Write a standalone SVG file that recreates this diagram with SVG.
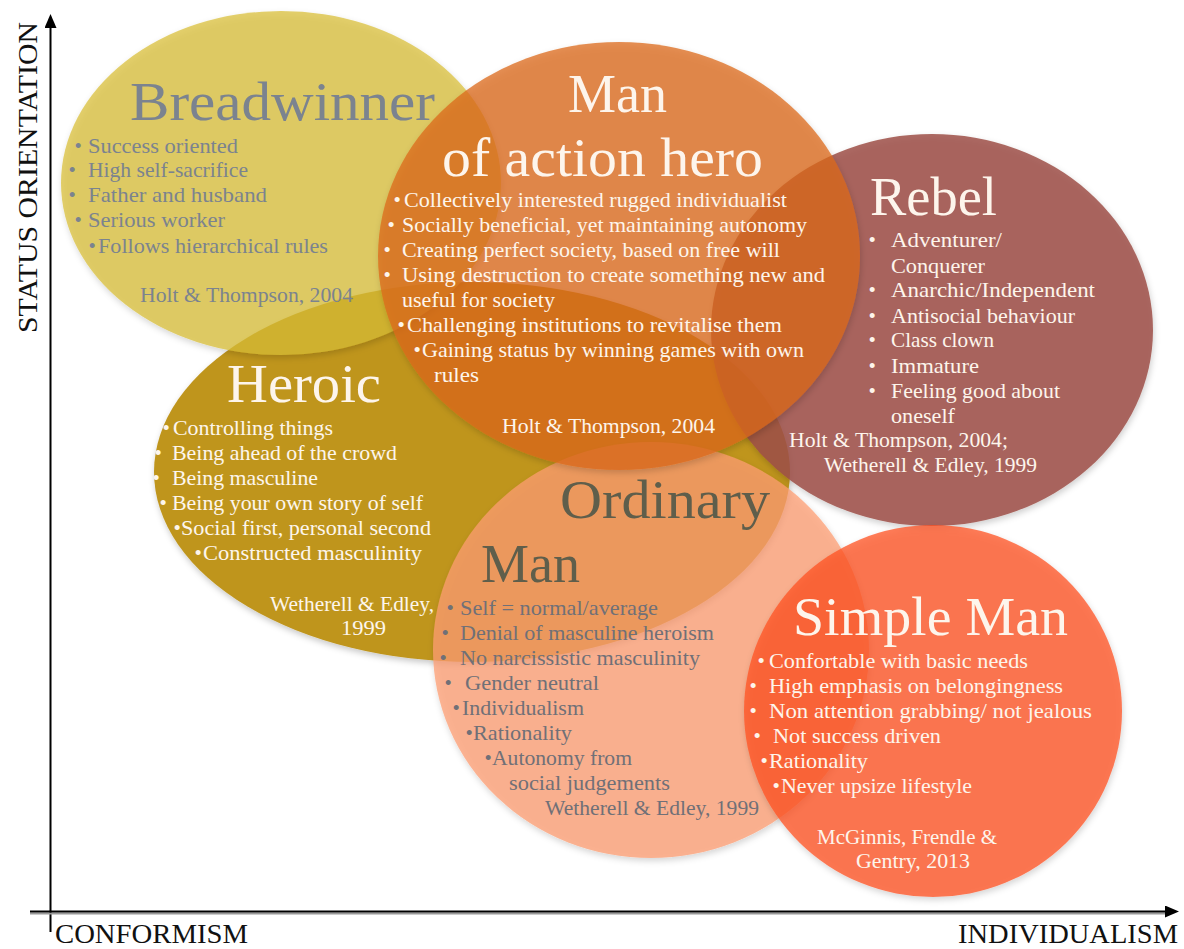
<svg xmlns="http://www.w3.org/2000/svg" width="1184" height="949" viewBox="0 0 1184 949">
<style>
text{font-family:"Liberation Serif","Times New Roman",serif}
.ttl{font-size:54px}
.b{font-size:21px}
.ax{font-size:28px;fill:#111}
.gr{fill:#7b838f}
.w{fill:#fdf5ec}
.om{fill:#5f5e4b}
.og{fill:#707077}
.sh{filter:url(#shadow)}
</style>
<defs>
<filter id="shadow" x="-10%" y="-10%" width="120%" height="125%">
<feDropShadow dx="1" dy="3" stdDeviation="3" flood-color="#000" flood-opacity="0.22"/>
</filter>
<marker id="arr" viewBox="0 0 14 12" refX="1" refY="6" markerWidth="14" markerHeight="12" markerUnits="userSpaceOnUse" orient="auto">
<path d="M0,0 L14,6 L0,12 Z" fill="#000"/>
</marker>
</defs>
<rect width="1184" height="949" fill="#fff"/>

<g id="shapes">
<ellipse id="heroic-shape" class="sh" cx="472" cy="472" rx="318" ry="190" fill="#bf951f"/>
<ellipse id="breadwinner-shape" class="sh" cx="281" cy="183" rx="220" ry="172" fill="#d8be37" fill-opacity="0.73"/>
<ellipse id="ordinary-shape" class="sh" cx="651" cy="650" rx="218" ry="208" fill="#fd9e73" fill-opacity="0.74"/>
<ellipse id="rebel-shape" class="sh" cx="932" cy="330" rx="221" ry="196" fill="#9d5048" fill-opacity="0.85"/>
<ellipse id="action-shape" class="sh" cx="619" cy="256" rx="241" ry="214" fill="#dc6a1a" fill-opacity="0.75"/>
<ellipse id="simple-shape" class="sh" cx="933" cy="711" rx="189" ry="186" fill="#ff5223" fill-opacity="0.75"/>
</g>

<g id="connectors">
<line x1="50.5" y1="932" x2="50.5" y2="27" stroke="#000" stroke-width="2" marker-end="url(#arr)"/>
<line x1="30" y1="913.5" x2="1166" y2="913.5" stroke="#999" stroke-width="2"/>
<line x1="30" y1="911.5" x2="1166" y2="911.5" stroke="#000" stroke-width="2" marker-end="url(#arr)"/>
</g>

<g id="axis-labels">
<text class="ax" transform="translate(37,333) rotate(-90)" textLength="311" lengthAdjust="spacingAndGlyphs">STATUS ORIENTATION</text>
<text class="ax" x="55" y="943" textLength="193" lengthAdjust="spacingAndGlyphs">CONFORMISM</text>
<text class="ax" x="958" y="943" textLength="220" lengthAdjust="spacingAndGlyphs">INDIVIDUALISM</text>
</g>

<g id="breadwinner" class="gr">
<text class="ttl" x="130" y="120" textLength="305" lengthAdjust="spacingAndGlyphs">Breadwinner</text>
<text class="b" x="74.5" y="153">•</text><text class="b" x="88" y="153" textLength="150" lengthAdjust="spacingAndGlyphs">Success oriented</text>
<text class="b" x="68.5" y="177">•</text><text class="b" x="88" y="177" textLength="160" lengthAdjust="spacingAndGlyphs">High self-sacrifice</text>
<text class="b" x="68.5" y="202">•</text><text class="b" x="88" y="202" textLength="179" lengthAdjust="spacingAndGlyphs">Father and husband</text>
<text class="b" x="74.5" y="227">•</text><text class="b" x="88" y="227" textLength="137" lengthAdjust="spacingAndGlyphs">Serious worker</text>
<text class="b" x="88.5" y="253">•</text><text class="b" x="98" y="253" textLength="230" lengthAdjust="spacingAndGlyphs">Follows hierarchical rules</text>
<text class="b" x="140" y="302" textLength="213" lengthAdjust="spacingAndGlyphs">Holt &amp; Thompson, 2004</text>
</g>

<g id="man-of-action-hero" class="w">
<text class="ttl" x="568" y="112" textLength="99" lengthAdjust="spacingAndGlyphs">Man</text>
<text class="ttl" x="442" y="176" textLength="321" lengthAdjust="spacingAndGlyphs">of action hero</text>
<text class="b" x="393.5" y="207">•</text><text class="b" x="404" y="207" textLength="383" lengthAdjust="spacingAndGlyphs">Collectively interested rugged individualist</text>
<text class="b" x="387.5" y="232">•</text><text class="b" x="402" y="232" textLength="405" lengthAdjust="spacingAndGlyphs">Socially beneficial, yet maintaining autonomy</text>
<text class="b" x="383.5" y="257">•</text><text class="b" x="402" y="257" textLength="378" lengthAdjust="spacingAndGlyphs">Creating perfect society, based on free will</text>
<text class="b" x="383.5" y="282">•</text><text class="b" x="402" y="282" textLength="423" lengthAdjust="spacingAndGlyphs">Using destruction to create something new and</text>
<text class="b" x="402" y="307" textLength="153" lengthAdjust="spacingAndGlyphs">useful for society</text>
<text class="b" x="397.5" y="332">•</text><text class="b" x="407" y="332" textLength="375" lengthAdjust="spacingAndGlyphs">Challenging institutions to revitalise them</text>
<text class="b" x="413.5" y="357">•</text><text class="b" x="422" y="357" textLength="382" lengthAdjust="spacingAndGlyphs">Gaining status by winning games with own</text>
<text class="b" x="434" y="382" textLength="45" lengthAdjust="spacingAndGlyphs">rules</text>
<text class="b" x="502" y="433" textLength="213" lengthAdjust="spacingAndGlyphs">Holt &amp; Thompson, 2004</text>
</g>

<g id="rebel" class="w">
<text class="ttl" x="870" y="215" textLength="127" lengthAdjust="spacingAndGlyphs">Rebel</text>
<text class="b" x="868.5" y="247">•</text><text class="b" x="891" y="247" textLength="111" lengthAdjust="spacingAndGlyphs">Adventurer/</text>
<text class="b" x="891" y="273" textLength="94" lengthAdjust="spacingAndGlyphs">Conquerer</text>
<text class="b" x="868.5" y="297">•</text><text class="b" x="891" y="297" textLength="204" lengthAdjust="spacingAndGlyphs">Anarchic/Independent</text>
<text class="b" x="868.5" y="323">•</text><text class="b" x="891" y="323" textLength="184" lengthAdjust="spacingAndGlyphs">Antisocial behaviour</text>
<text class="b" x="868.5" y="347">•</text><text class="b" x="891" y="347" textLength="103" lengthAdjust="spacingAndGlyphs">Class clown</text>
<text class="b" x="868.5" y="373">•</text><text class="b" x="891" y="373" textLength="88" lengthAdjust="spacingAndGlyphs">Immature</text>
<text class="b" x="868.5" y="398">•</text><text class="b" x="891" y="398" textLength="169" lengthAdjust="spacingAndGlyphs">Feeling good about</text>
<text class="b" x="891" y="423" textLength="64" lengthAdjust="spacingAndGlyphs">oneself</text>
<text class="b" x="789" y="447" textLength="219" lengthAdjust="spacingAndGlyphs">Holt &amp; Thompson, 2004;</text>
<text class="b" x="824" y="472" textLength="213" lengthAdjust="spacingAndGlyphs">Wetherell &amp; Edley, 1999</text>
</g>

<g id="heroic" class="w">
<text class="ttl" x="227" y="402" textLength="154" lengthAdjust="spacingAndGlyphs">Heroic</text>
<text class="b" x="162.5" y="435">•</text><text class="b" x="173" y="435" textLength="160" lengthAdjust="spacingAndGlyphs">Controlling things</text>
<text class="b" x="154.5" y="460">•</text><text class="b" x="172" y="460" textLength="225" lengthAdjust="spacingAndGlyphs">Being ahead of the crowd</text>
<text class="b" x="152.5" y="485">•</text><text class="b" x="172" y="485" textLength="146" lengthAdjust="spacingAndGlyphs">Being masculine</text>
<text class="b" x="159.5" y="510">•</text><text class="b" x="172" y="510" textLength="251" lengthAdjust="spacingAndGlyphs">Being your own story of self</text>
<text class="b" x="173.5" y="535">•</text><text class="b" x="181" y="535" textLength="250" lengthAdjust="spacingAndGlyphs">Social first, personal second</text>
<text class="b" x="194.5" y="560">•</text><text class="b" x="203" y="560" textLength="219" lengthAdjust="spacingAndGlyphs">Constructed masculinity</text>
<text class="b" x="270" y="611" textLength="164" lengthAdjust="spacingAndGlyphs">Wetherell &amp; Edley,</text>
<text class="b" x="341" y="635" textLength="45" lengthAdjust="spacingAndGlyphs">1999</text>
</g>

<g id="ordinary-man">
<text class="ttl om" x="560" y="518" textLength="210" lengthAdjust="spacingAndGlyphs">Ordinary</text>
<text class="ttl om" x="481" y="582" textLength="99" lengthAdjust="spacingAndGlyphs">Man</text>
<g class="og">
<text class="b" x="446.5" y="615">•</text><text class="b" x="460" y="615" textLength="198" lengthAdjust="spacingAndGlyphs">Self = normal/average</text>
<text class="b" x="441.5" y="640">•</text><text class="b" x="460" y="640" textLength="254" lengthAdjust="spacingAndGlyphs">Denial of masculine heroism</text>
<text class="b" x="439.5" y="665">•</text><text class="b" x="460" y="665" textLength="240" lengthAdjust="spacingAndGlyphs">No narcissistic masculinity</text>
<text class="b" x="444.5" y="690">•</text><text class="b" x="465" y="690" textLength="134" lengthAdjust="spacingAndGlyphs">Gender neutral</text>
<text class="b" x="452.5" y="715">•</text><text class="b" x="462" y="715" textLength="122" lengthAdjust="spacingAndGlyphs">Individualism</text>
<text class="b" x="465.5" y="740">•</text><text class="b" x="473" y="740" textLength="99" lengthAdjust="spacingAndGlyphs">Rationality</text>
<text class="b" x="484.5" y="765">•</text><text class="b" x="492" y="765" textLength="140" lengthAdjust="spacingAndGlyphs">Autonomy from</text>
<text class="b" x="509" y="790" textLength="161" lengthAdjust="spacingAndGlyphs">social judgements</text>
<text class="b" x="545" y="815" textLength="214" lengthAdjust="spacingAndGlyphs">Wetherell &amp; Edley, 1999</text>
</g>
</g>

<g id="simple-man" class="w">
<text class="ttl" x="793" y="635" textLength="275" lengthAdjust="spacingAndGlyphs">Simple Man</text>
<text class="b" x="757.5" y="668">•</text><text class="b" x="769" y="668" textLength="259" lengthAdjust="spacingAndGlyphs">Confortable with basic needs</text>
<text class="b" x="749.5" y="693">•</text><text class="b" x="769" y="693" textLength="294" lengthAdjust="spacingAndGlyphs">High emphasis on belongingness</text>
<text class="b" x="749.5" y="718">•</text><text class="b" x="769" y="718" textLength="323" lengthAdjust="spacingAndGlyphs">Non attention grabbing/ not jealous</text>
<text class="b" x="753.5" y="743">•</text><text class="b" x="773" y="743" textLength="168" lengthAdjust="spacingAndGlyphs">Not success driven</text>
<text class="b" x="760.5" y="768">•</text><text class="b" x="769" y="768" textLength="99" lengthAdjust="spacingAndGlyphs">Rationality</text>
<text class="b" x="772.5" y="793">•</text><text class="b" x="781" y="793" textLength="191" lengthAdjust="spacingAndGlyphs">Never upsize lifestyle</text>
<text class="b" x="817" y="844" textLength="180" lengthAdjust="spacingAndGlyphs">McGinnis, Frendle &amp;</text>
<text class="b" x="856" y="868" textLength="114" lengthAdjust="spacingAndGlyphs">Gentry, 2013</text>
</g>
</svg>
